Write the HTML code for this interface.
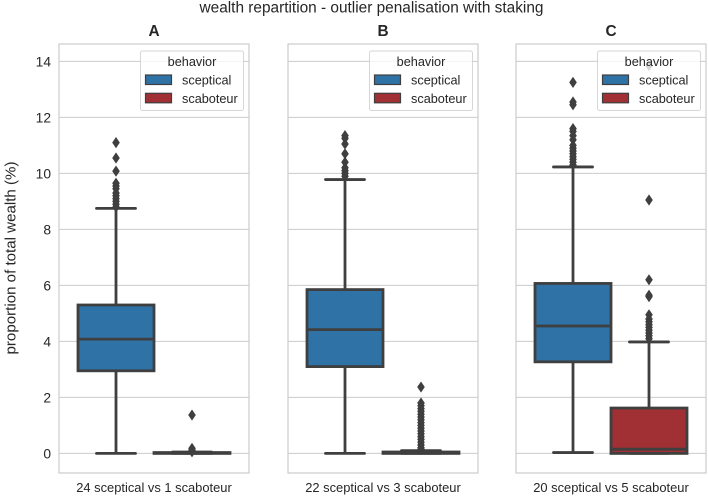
<!DOCTYPE html>
<html>
<head>
<meta charset="utf-8">
<title>wealth repartition</title>
<style>
html,body{margin:0;padding:0;background:#fff;width:708px;height:496px;overflow:hidden}
svg{display:block}
text{font-family:"Liberation Sans",Arial,sans-serif;fill:#262626}
</style>
</head>
<body>
<svg id="chart" xmlns="http://www.w3.org/2000/svg" width="708" height="496" viewBox="0 0 708 496">
<text x="371.5" y="12.5" font-size="15.4" text-anchor="middle">wealth repartition - outlier penalisation with staking</text>
<text transform="translate(15.5,258) rotate(-90)" font-size="15.1" text-anchor="middle">proportion of total wealth (%)</text>
</svg>
<script>
const panelTitles = ['A', 'B', 'C'];
const panelLabels = ['24 sceptical vs 1 scaboteur', '22 sceptical vs 3 scaboteur', '20 sceptical vs 5 scaboteur'];
const behaviors = ['sceptical', 'scaboteur'];
const yTicks = [0, 2, 4, 6, 8, 10, 12, 14];
// values: [panel][behavior]
const q1Values = [[2.95, 0], [3.1, 0], [3.27, 0]];
const medianValues = [[4.08, 0.01], [4.42, 0.02], [4.55, 0.15]];
const q3Values = [[5.3, 0.03], [5.85, 0.05], [6.07, 1.62]];
const whiskerLowValues = [[0, 0], [0, 0], [0.03, 0]];
const whiskerHighValues = [[8.75, 0.05], [9.78, 0.1], [10.23, 3.98]];
const outliersA = [
  [11.1, 10.55, 10.08, 9.65, 9.55, 9.45, 9.3, 9.2, 9.1, 9.0, 8.9, 8.8],
  [1.37, 0.18, 0.12, 0.08, 0.06]
];
const outliersB = [
  [11.35, 11.25, 11.05, 10.7, 10.4, 10.2, 10.1, 10.0, 9.9],
  [2.37, 1.8, 1.7, 1.6, 1.5, 1.4, 1.3, 1.2, 1.1, 1.0, 0.9, 0.8, 0.7, 0.6, 0.5, 0.4, 0.3, 0.2, 0.15]
];
const outliersC = [
  [13.25, 12.55, 12.45, 11.6, 11.5, 11.35, 11.2, 11.0, 10.9, 10.8, 10.7, 10.6, 10.5, 10.4, 10.3],
  [13.85, 9.05, 6.2, 5.65, 5.6, 4.95, 4.8, 4.7, 4.6, 4.5, 4.4, 4.3, 4.2, 4.1]
];
const outlierValues = [outliersA, outliersB, outliersC];

const NS = 'http://www.w3.org/2000/svg';
const svg = document.getElementById('chart');
const INK = '#3f3f3f';
const GRID = '#cccccc';
const FILLS = ['#2e72a6', '#a03033'];
const AX_LEFT = [59, 288, 516];
const AX_W = 190, AX_TOP = 44, AX_BOTTOM = 473;

function yPos(v) { return 453.4 - v * 28.0; }
function xPos(panel, hue) { return AX_LEFT[panel] + AX_W / 2 + (hue === 0 ? -0.2 : 0.2) * AX_W; }

function make(tag, parent, props) {
  const el = document.createElementNS(NS, tag);
  for (const k in props) el.setAttribute(k, props[k]);
  parent.appendChild(el);
  return el;
}

panelTitles.forEach(function (title, p) {
  const left = AX_LEFT[p];
  const right = left + AX_W;
  const cx = left + AX_W / 2;
  const g = make('g', svg, {});
  
  

  yTicks.forEach(function (t) {
    const line = make('line', g, { x1: left, x2: right, y1: yPos(t), y2: yPos(t), stroke: GRID, 'stroke-width': 1 });
    
    
    if (p === 0) {
      const lab = make('text', g, { x: left - 8, y: yPos(t) + 5, 'font-size': 13.8, 'text-anchor': 'end' });
      lab.textContent = t;
      
      
    }
  });

  behaviors.forEach(function (b, h) {
    const x = xPos(p, h);
    const boxW = 76, capW = 39, lw = 2.8;
    const whiskerLow = make('line', g, { x1: x, x2: x, y1: yPos(q1Values[p][h]), y2: yPos(whiskerLowValues[p][h]), stroke: INK, 'stroke-width': lw });
    
    
    const whiskerHigh = make('line', g, { x1: x, x2: x, y1: yPos(q3Values[p][h]), y2: yPos(whiskerHighValues[p][h]), stroke: INK, 'stroke-width': lw });
    
    
    [whiskerLowValues[p][h], whiskerHighValues[p][h]].forEach(function (v) {
      const cap = make('line', g, { x1: x - capW / 2, x2: x + capW / 2, y1: yPos(v), y2: yPos(v), stroke: INK, 'stroke-width': lw, 'stroke-linecap': 'round' });
      
      
    });
    const top = yPos(q3Values[p][h]);
    const bottom = yPos(q1Values[p][h]);
    const box = make('rect', g, { x: x - boxW / 2, y: top, width: boxW, height: bottom - top, fill: FILLS[h], stroke: INK, 'stroke-width': lw });
    
    
    const med = make('line', g, { x1: x - boxW / 2, x2: x + boxW / 2, y1: yPos(medianValues[p][h]), y2: yPos(medianValues[p][h]), stroke: INK, 'stroke-width': lw });
    
    
    outlierValues[p][h].forEach(function (v) {
      const y = yPos(v);
      const d = make('polygon', g, { points: [x, y - 5.6, x + 3.8, y, x, y + 5.6, x - 3.8, y].join(' '), fill: INK });
      
      
    });
  });

  const frame = make('rect', g, { x: left, y: AX_TOP, width: AX_W, height: AX_BOTTOM - AX_TOP, fill: 'none', stroke: GRID, 'stroke-width': 1.2 });
  
  

  const ttl = make('text', g, { x: cx, y: 36, 'font-size': 15.4, 'font-weight': 'bold', 'text-anchor': 'middle' });
  ttl.textContent = title;
  
  

  const xl = make('text', g, { x: cx, y: 492, 'font-size': 12.9, 'text-anchor': 'middle' });
  xl.textContent = panelLabels[p];
  
  

  const lx = right - 108.5;
  const legend = make('g', g, {});
  
  
  make('rect', legend, { x: lx, y: 51, width: 103, height: 59.5, rx: 2, fill: '#ffffff', 'fill-opacity': 0.8, stroke: GRID, 'stroke-opacity': 0.8, 'stroke-width': 1 });
  const lt = make('text', legend, { x: lx + 51.5, y: 66, 'font-size': 12.7, 'text-anchor': 'middle' });
  lt.textContent = 'behavior';
  
  
  behaviors.forEach(function (b, h) {
    const ey = 75 + h * 18.3;
    const sw = make('rect', legend, { x: lx + 5, y: ey, width: 26, height: 9.5, fill: FILLS[h], stroke: INK, 'stroke-width': 1.2 });
    
    
    const et = make('text', legend, { x: lx + 41.5, y: ey + 9.5, 'font-size': 12.7 });
    et.textContent = b;
    
    
  });
});
</script>
</body>
</html>
